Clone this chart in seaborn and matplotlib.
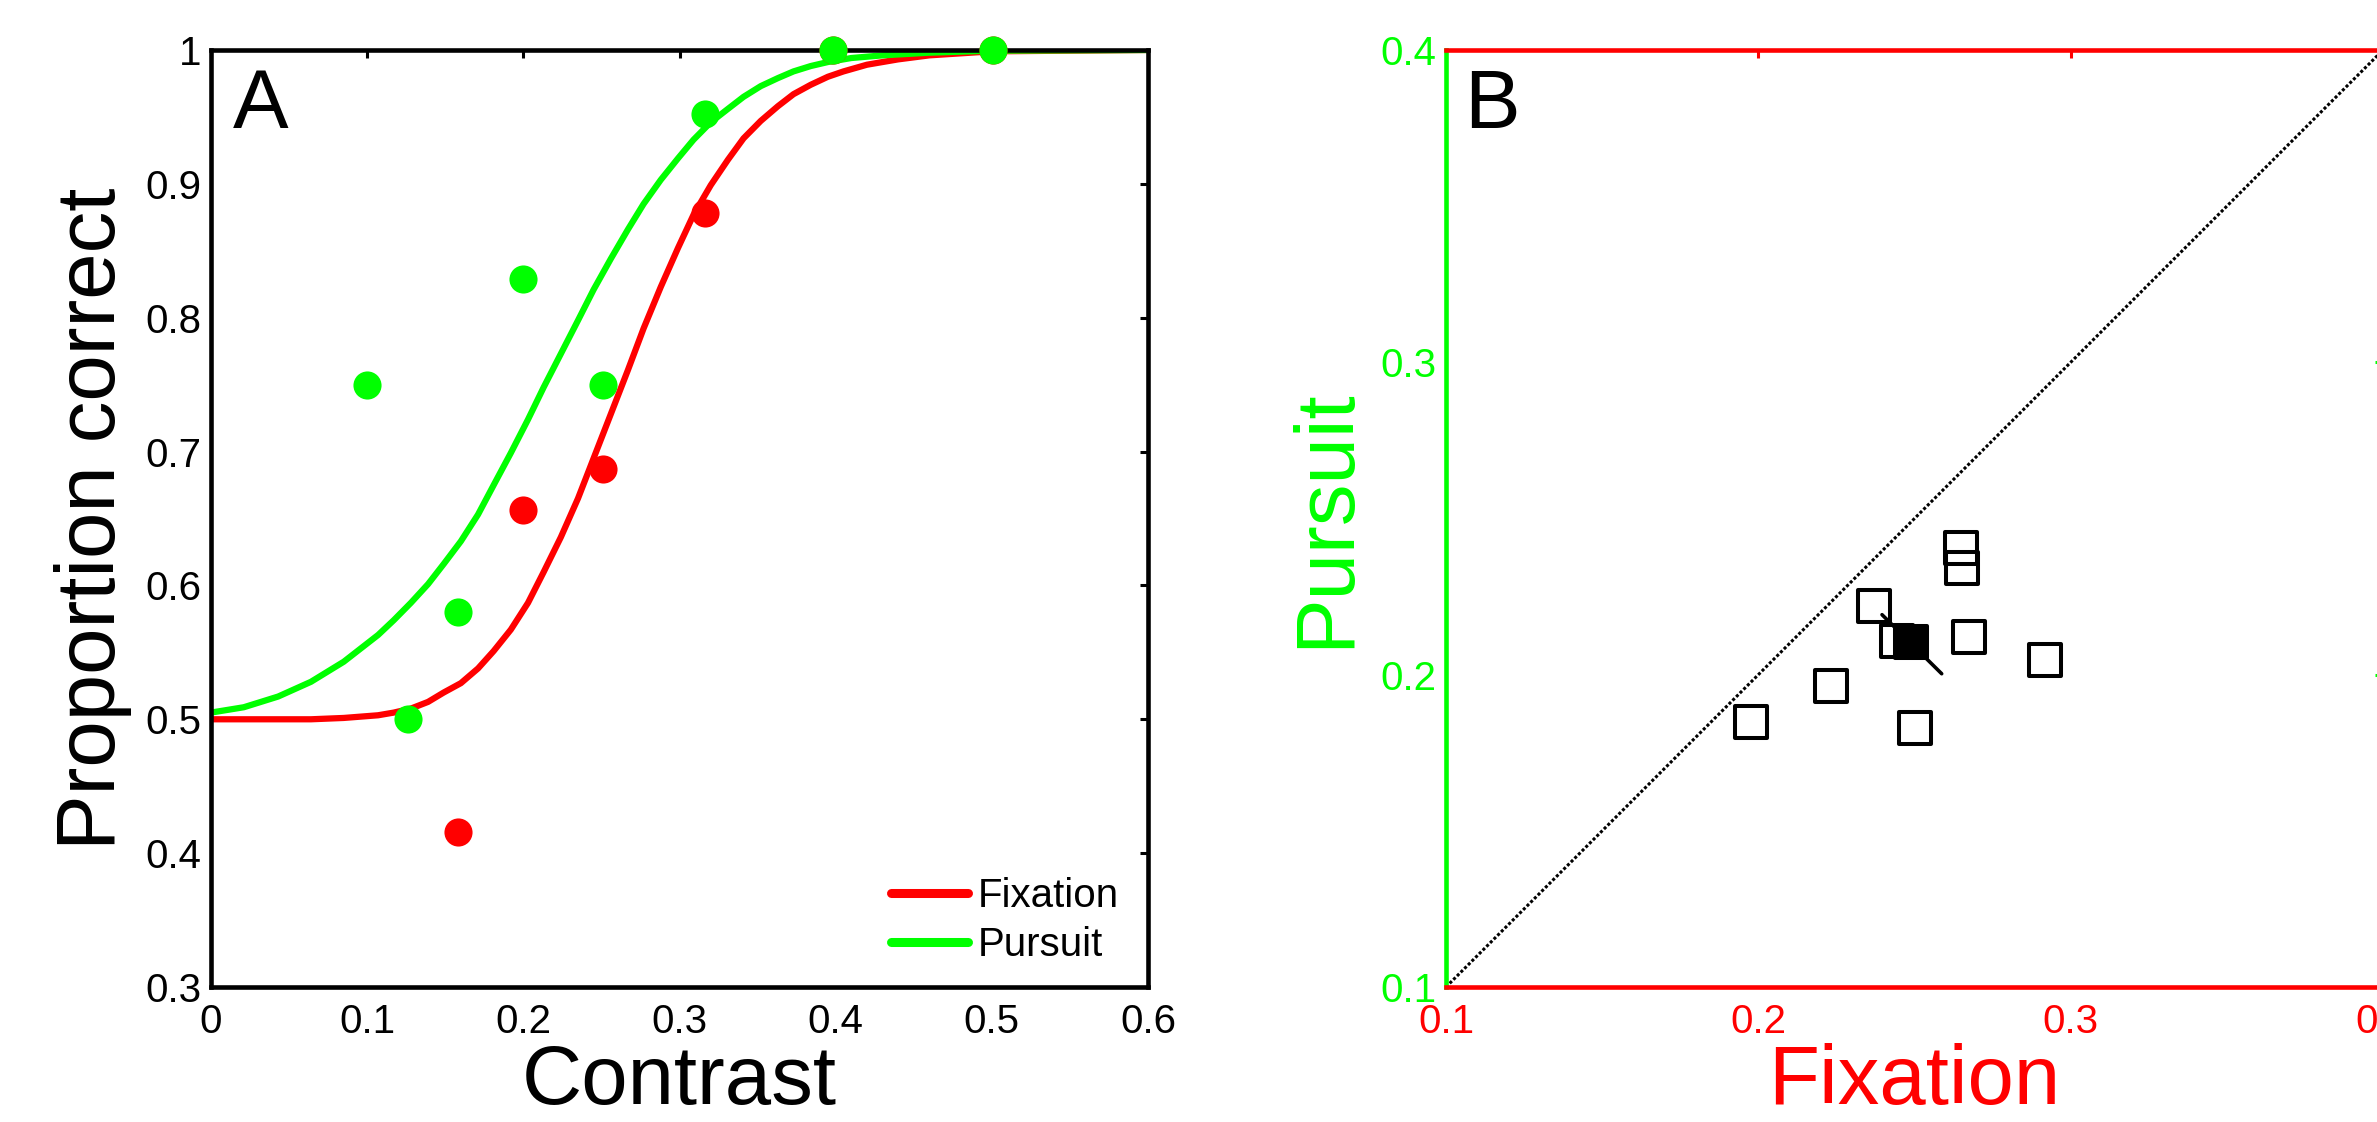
import matplotlib
matplotlib.use('Agg')
import matplotlib.pyplot as plt
import seaborn as sns

# Panel A: proportion correct vs contrast
contrast_fix = [0.158, 0.2, 0.251, 0.316, 0.398, 0.501]
correct_fix = [0.416, 0.656, 0.687, 0.878, 1.0, 1.0]
contrast_pur = [0.1, 0.126, 0.158, 0.2, 0.251, 0.316, 0.398, 0.501]
correct_pur = [0.75, 0.5, 0.58, 0.829, 0.75, 0.952, 1.0, 1.0]

# fitted psychometric curves
fit_x_fix = [0.0, 0.064, 0.085, 0.107, 0.117, 0.128, 0.139, 0.149, 0.160, 0.171,
             0.181, 0.192, 0.203, 0.213, 0.224, 0.235, 0.245, 0.256, 0.267, 0.277,
             0.288, 0.299, 0.309, 0.320, 0.331, 0.341, 0.352, 0.363, 0.373, 0.384,
             0.395, 0.405, 0.420, 0.440, 0.460, 0.5, 0.6]
fit_y_fix = [0.5, 0.5, 0.501, 0.503, 0.505, 0.508, 0.513, 0.520, 0.527, 0.538,
             0.551, 0.567, 0.587, 0.610, 0.636, 0.665, 0.695, 0.728, 0.761, 0.792,
             0.823, 0.852, 0.877, 0.899, 0.918, 0.934, 0.947, 0.958, 0.967, 0.974,
             0.980, 0.984, 0.989, 0.993, 0.996, 0.999, 1.0]
fit_x_pur = [0.0, 0.021, 0.043, 0.064, 0.085, 0.107, 0.117, 0.128, 0.139, 0.149,
             0.160, 0.171, 0.181, 0.192, 0.203, 0.213, 0.224, 0.235, 0.245, 0.256,
             0.267, 0.277, 0.288, 0.299, 0.309, 0.320, 0.331, 0.341, 0.352, 0.363,
             0.373, 0.384, 0.395, 0.410, 0.430, 0.460, 0.5, 0.6]
fit_y_pur = [0.505, 0.509, 0.517, 0.528, 0.543, 0.563, 0.574, 0.587, 0.601, 0.616,
             0.633, 0.653, 0.675, 0.699, 0.724, 0.748, 0.773, 0.798, 0.821, 0.844,
             0.866, 0.885, 0.903, 0.919, 0.933, 0.946, 0.956, 0.965, 0.973, 0.979,
             0.984, 0.988, 0.991, 0.994, 0.996, 0.998, 0.9995, 1.0]

# Panel B: thresholds, pursuit vs fixation
thr_fix = [0.1978, 0.2234, 0.2370, 0.2443, 0.2501, 0.2650, 0.2653, 0.2675, 0.2918]
thr_pur = [0.1850, 0.1965, 0.2219, 0.2108, 0.1829, 0.2407, 0.2343, 0.2120, 0.2048]
mean_fix = [0.2490]
mean_pur = [0.2104]
err_x = [0.2396, 0.2587]
err_y = [0.2192, 0.2003]
diag = [0.1, 0.4]

RED = '#ff0000'
GREEN = '#00ff00'

sns.set_theme(style='white')
plt.rcParams['font.family'] = ['Liberation Sans', 'DejaVu Sans']
plt.rcParams['text.color'] = 'black'
plt.rcParams['axes.labelcolor'] = 'black'
plt.rcParams['xtick.color'] = 'black'
plt.rcParams['ytick.color'] = 'black'

fig = plt.figure(figsize=(23.77, 11.22), dpi=100)
axA = fig.add_axes([0.08877, 0.12032, 0.39420, 0.83512])
axB = fig.add_axes([0.60833, 0.12032, 0.39420, 0.83512])

# ---- panel A ----
sns.lineplot(x=fit_x_fix, y=fit_y_fix, color=RED, lw=4.5, ax=axA,
             estimator=None, sort=False, label='Fixation')
sns.lineplot(x=fit_x_pur, y=fit_y_pur, color=GREEN, lw=4.5, ax=axA,
             estimator=None, sort=False, label='Pursuit')
sns.scatterplot(x=contrast_fix, y=correct_fix, color=RED, s=410, linewidth=0,
                ax=axA, zorder=5, clip_on=False, legend=False)
sns.scatterplot(x=contrast_pur, y=correct_pur, color=GREEN, s=410, linewidth=0,
                ax=axA, zorder=6, clip_on=False, legend=False)

axA.set_xlim(0, 0.6)
axA.set_ylim(0.3, 1.0)
axA.set_xticks([0, 0.1, 0.2, 0.3, 0.4, 0.5, 0.6])
axA.set_xticklabels(['0', '0.1', '0.2', '0.3', '0.4', '0.5', '0.6'])
axA.set_yticks([0.3, 0.4, 0.5, 0.6, 0.7, 0.8, 0.9, 1.0])
axA.set_yticklabels(['0.3', '0.4', '0.5', '0.6', '0.7', '0.8', '0.9', '1'])
for sp in axA.spines.values():
    sp.set_color('black')
    sp.set_linewidth(3.3)
axA.tick_params(direction='in', length=5.8, width=2.2, labelsize=29,
                top=True, right=True, colors='black')
axA.tick_params(axis='x', pad=11.5)
axA.tick_params(axis='y', pad=7)

axA.set_xlabel('Contrast', fontsize=60, color='black', va='baseline')
axA.xaxis.set_label_coords(0.5, -0.1249)
axA.set_ylabel('Proportion correct', fontsize=60, color='black', va='baseline')
axA.yaxis.set_label_coords(-0.1025, 0.5)
axA.text(0.0235, 0.9167, 'A', transform=axA.transAxes, fontsize=60,
         color='black', ha='left', va='baseline')

leg = axA.legend(loc='center left', bbox_to_anchor=(0.7257, 0.071),
                 frameon=False, fontsize=29, borderpad=0, borderaxespad=0,
                 handlelength=1.91, handletextpad=0.25, labelspacing=0.27)
for line in leg.get_lines():
    line.set_linewidth(6.5)
for t in leg.get_texts():
    t.set_color('black')

# ---- panel B ----
sns.lineplot(x=diag, y=diag, color='black', lw=2.2, linestyle=(0, (1, 0.7)),
             ax=axB, estimator=None, sort=False)
sns.scatterplot(x=thr_fix, y=thr_pur, marker='s', s=530, facecolors='none',
                edgecolors='black', linewidth=2.9, ax=axB, zorder=4)
sns.lineplot(x=err_x, y=err_y, color='black', lw=2.6, ax=axB,
             estimator=None, sort=False, zorder=5)
sns.scatterplot(x=mean_fix, y=mean_pur, marker='s', s=530, color='black',
                edgecolor='black', linewidth=2.9, ax=axB, zorder=6)

axB.set_xlim(0.1, 0.4)
axB.set_ylim(0.1, 0.4)
axB.set_xticks([0.1, 0.2, 0.3, 0.4])
axB.set_xticklabels(['0.1', '0.2', '0.3', '0.4'])
axB.set_yticks([0.1, 0.2, 0.3, 0.4])
axB.set_yticklabels(['0.1', '0.2', '0.3', '0.4'])
for side in ['top', 'bottom']:
    axB.spines[side].set_color(RED)
    axB.spines[side].set_linewidth(3.3)
for side in ['left', 'right']:
    axB.spines[side].set_color(GREEN)
    axB.spines[side].set_linewidth(3.3)
axB.tick_params(direction='in', length=5.8, width=2.2, labelsize=29,
                top=True, right=True)
axB.tick_params(axis='x', colors=RED, pad=11.5)
axB.tick_params(axis='y', colors=GREEN, pad=7)

axB.set_xlabel('Fixation', fontsize=60, color=RED, va='baseline')
axB.xaxis.set_label_coords(0.5, -0.1249)
axB.set_ylabel('Pursuit', fontsize=60, color=GREEN, va='baseline')
axB.yaxis.set_label_coords(-0.1046, 0.5)
axB.text(0.0192, 0.9167, 'B', transform=axB.transAxes, fontsize=60,
         color='black', ha='left', va='baseline')

fig.savefig('out.png', dpi=100)
